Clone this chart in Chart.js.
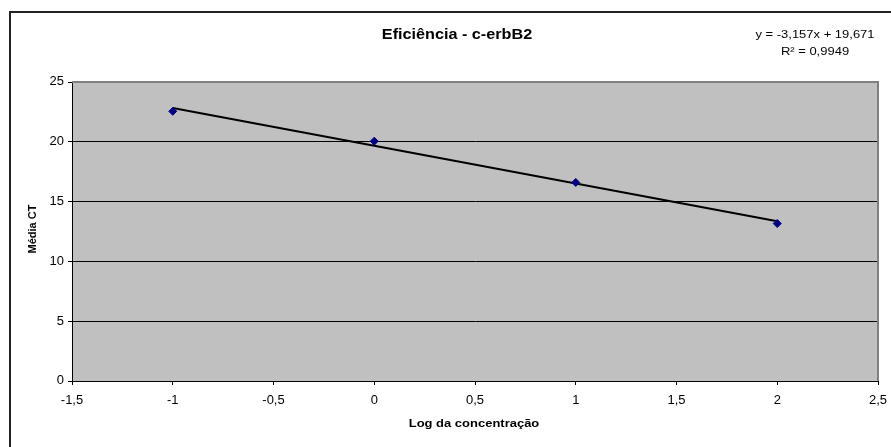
<!DOCTYPE html>
<html>
<head>
<meta charset="utf-8">
<script src="https://cdn.jsdelivr.net/npm/chart.js@4/dist/chart.umd.min.js"></script>
<style>
  html, body { margin: 0; padding: 0; background: #fff; }
  canvas { display: block; }
</style>
</head>
<body>
<canvas id="chart" width="891" height="447"></canvas>
<script>
// data
const logConc = [-1, 0, 1, 2]
const mediaCT = [22.55, 20.05, 16.6, 13.17]

// trendline as printed on the chart
const slope = -3.157
const intercept = 19.671
const trendX = [-1, 2]
const eqLines = ["y = -3,157x + 19,671", "R² = 0,9949"]

const FONT = "'Liberation Sans', Arial, sans-serif"
const fmt = v => String(v).replace(".", ",")

// text drawn a little wider than normal, like in the source image
function wideText(ctx, text, x, y, align, sx) {
  ctx.save()
  ctx.translate(x, y)
  ctx.scale(sx || 1.15, 1)
  ctx.textAlign = align || "center"
  ctx.fillText(text, 0, 0)
  ctx.restore()
}

const excelLook = {
  id: "excelLook",
  beforeDraw(chart) {
    const { ctx, chartArea: a } = chart
    ctx.save()
    ctx.fillStyle = "#fff"
    ctx.fillRect(0, 0, chart.width, chart.height)
    // outer chart border (runs off the right/bottom of the picture)
    ctx.strokeStyle = "#222"
    ctx.lineWidth = 2
    ctx.strokeRect(10, 12, chart.width + 20, chart.height + 20)
    // plot area
    ctx.fillStyle = "#c0c0c0"
    ctx.fillRect(a.left, a.top, a.right - a.left, a.bottom - a.top)
    ctx.restore()
  },
  afterDraw(chart) {
    const { ctx, chartArea: a } = chart
    const xs = chart.scales.x, ys = chart.scales.y
    ctx.save()
    // gray plot border top/right
    ctx.strokeStyle = "#808080"
    ctx.lineWidth = 2
    ctx.beginPath()
    ctx.moveTo(a.left, a.top)
    ctx.lineTo(a.right, a.top)
    ctx.lineTo(a.right, a.bottom)
    ctx.stroke()

    ctx.fillStyle = "#000"
    ctx.textBaseline = "middle"

    // tick labels
    ctx.font = "12px " + FONT
    xs.ticks.forEach(t => {
      wideText(ctx, fmt(t.value), xs.getPixelForValue(t.value), 401, "center", 1.08)
    })
    ys.ticks.forEach(t => {
      wideText(ctx, fmt(t.value), 64, ys.getPixelForValue(t.value), "right", 1.08)
    })

    ctx.font = "bold 15px " + FONT
    wideText(ctx, "Eficiência - c-erbB2", 457, 35, "center", 1.08)

    ctx.font = "11px " + FONT
    wideText(ctx, eqLines[0], 815, 35, "center", 1.18)
    wideText(ctx, eqLines[1], 815, 52, "center", 1.18)

    ctx.font = "bold 11px " + FONT
    wideText(ctx, "Log da concentração", 474, 424, "center", 1.18)

    ctx.translate(33, 229)
    ctx.rotate(-Math.PI / 2)
    ctx.textAlign = "center"
    ctx.fillText("Média CT", 0, 0)
    ctx.restore()
  }
}

new Chart(document.getElementById("chart"), {
  type: "scatter",
  data: {
    datasets: [
      {
        label: "Média CT",
        data: logConc.map((x, i) => ({ x, y: mediaCT[i] })),
        pointStyle: "rectRot",
        pointRadius: 4,
        backgroundColor: "#000080",
        borderColor: "#000080",
        borderWidth: 1,
        order: 1
      },
      {
        label: "Linear",
        data: trendX.map(x => ({ x, y: slope * x + intercept })),
        showLine: true,
        pointRadius: 0,
        borderColor: "#000",
        borderWidth: 2,
        order: 2
      }
    ]
  },
  options: {
    responsive: false,
    animation: false,
    layout: { padding: { top: 82, right: 13, left: 0, bottom: 0 } },
    plugins: {
      legend: { display: false },
      tooltip: { enabled: false }
    },
    scales: {
      x: {
        type: "linear",
        min: -1.5,
        max: 2.5,
        afterFit: s => { s.height = 66 },
        border: { color: "#000", width: 1 },
        grid: { drawOnChartArea: false, drawTicks: true, tickLength: 4, color: "#000" },
        ticks: { stepSize: 0.5, display: false }
      },
      y: {
        min: 0,
        max: 25,
        afterFit: s => { s.width = 72 },
        border: { color: "#000", width: 1 },
        grid: { color: "#000", lineWidth: 1, tickLength: 4 },
        ticks: { stepSize: 5, display: false }
      }
    }
  },
  plugins: [excelLook]
})
</script>
</body>
</html>
